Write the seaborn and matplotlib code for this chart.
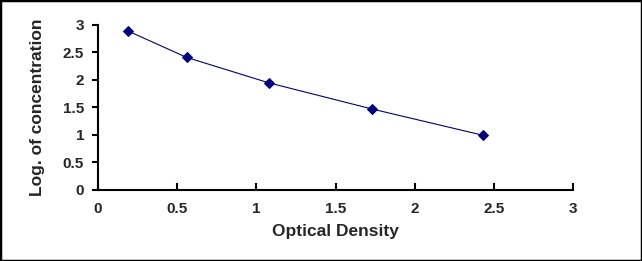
import matplotlib
matplotlib.use("Agg")
import matplotlib.pyplot as plt
import seaborn as sns
import pandas as pd
from matplotlib.patches import Rectangle

optical_density = [0.19, 0.559, 1.079, 1.728, 2.43]
log_concentration = [2.89, 2.41, 1.945, 1.47, 0.99]
x_ticks = [0, 0.5, 1, 1.5, 2, 2.5, 3]
y_ticks = [0, 0.5, 1, 1.5, 2, 2.5, 3]
x_tick_labels = ["0", "0.5", "1", "1.5", "2", "2.5", "3"]
y_tick_labels = ["0", "0.5", "1", "1.5", "2", "2.5", "3"]

sns.set_style("white")
plt.rcParams["font.family"] = ["Liberation Sans", "DejaVu Sans"]

df = pd.DataFrame({"od": optical_density, "logc": log_concentration})

fig = plt.figure(figsize=(6.42, 2.61), dpi=100)
ax = fig.add_axes([98/642, 1-189.5/261, (573-98)/642, (189.5-25)/261])

sns.lineplot(data=df, x="od", y="logc", ax=ax, color="#000080", linewidth=0.8,
             marker="D", markersize=5, markeredgecolor="#000080",
             markerfacecolor="#000080", sort=False)

ax.set_xlim(0, 3)
ax.set_ylim(0, 3)
ax.set_xticks(x_ticks)
ax.set_xticklabels(x_tick_labels, fontweight="bold", fontsize=11)
ax.set_yticks(y_ticks)
ax.set_yticklabels(y_tick_labels, fontweight="bold", fontsize=11)
ax.set_xlabel("Optical Density", fontweight="bold", fontsize=12.5)
ax.set_ylabel("Log. of concentration", fontweight="bold", fontsize=12.5)
ax.xaxis.set_label_coords(0.5, -0.21)
ax.yaxis.set_label_coords(-0.112, 0.5)

for s in ["top", "right"]:
    ax.spines[s].set_visible(False)
for s in ["left", "bottom"]:
    ax.spines[s].set_color("black")
    ax.spines[s].set_linewidth(1.5)

ax.tick_params(axis="x", direction="in", length=5, width=1.5, color="black", pad=9, bottom=True)
ax.tick_params(axis="y", direction="out", length=4, width=1.5, color="black", pad=6, left=True)
ax.patch.set_alpha(0)

fig.patches.append(Rectangle((0, 0), 1, 1, transform=fig.transFigure,
                             fill=False, edgecolor="black", linewidth=2.5))

fig.savefig("out.png", dpi=100)
